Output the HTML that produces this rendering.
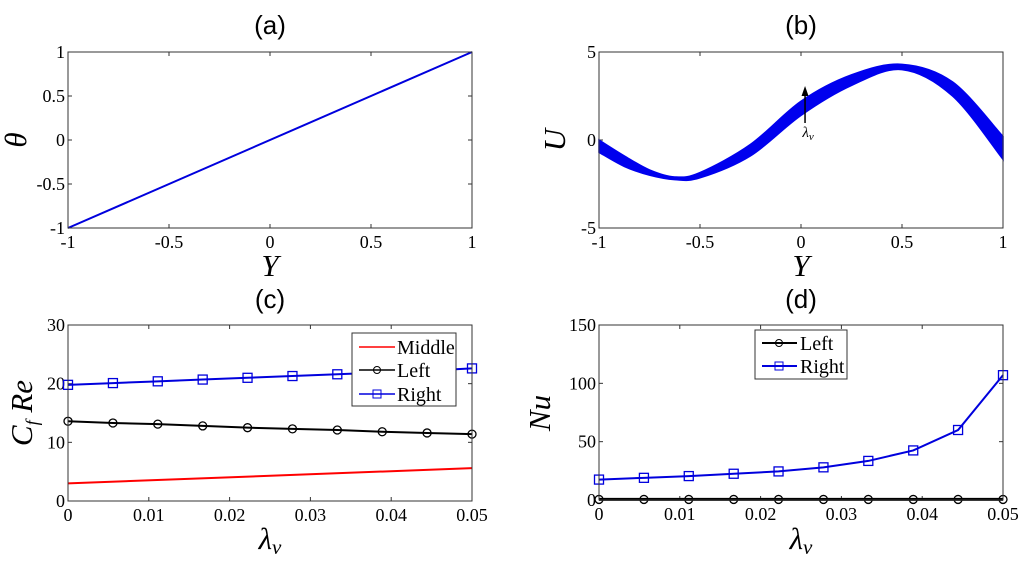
<!DOCTYPE html>
<html><head><meta charset="utf-8"><style>
body{margin:0;background:#fff;}
svg text{font-family:"Liberation Serif",serif;}
</style></head><body>
<svg id="fig" width="1024" height="562" xmlns="http://www.w3.org/2000/svg"></svg>
<script>
const NS="http://www.w3.org/2000/svg";
const svg=document.getElementById('fig');
// ---- data ----
const aY=[-1,1];
const aTheta=[-1,1];
const bY=[-1,-0.875,-0.75,-0.625,-0.5,-0.25,0,0.25,0.5,0.75,1];
const bUlow=[-0.7,-1.5,-2.0,-2.25,-2.15,-0.9,1.4,3.1,4.0,2.5,-1.1];
const bUhigh=[0,-0.9,-1.7,-2.1,-1.85,-0.25,2.2,3.7,4.3,3.3,0.2];
const lam=[0,0.00556,0.01111,0.01667,0.02222,0.02778,0.03333,0.03889,0.04444,0.05];
const cRight=[19.8,20.1,20.4,20.7,21.0,21.3,21.6,21.9,22.2,22.6];
const cLeft=[13.6,13.3,13.1,12.8,12.5,12.3,12.1,11.8,11.6,11.4];
const cMidX=[0,0.05];
const cMiddle=[3.0,5.6];
const dRight=[17.5,19,20.5,22.5,24.5,28,33.5,42.5,60,107];
const dLeft=[0.5,0.5,0.5,0.5,0.5,0.5,0.5,0.5,0.5,0.5];
const ticksA=[-1,-0.5,0,0.5,1];
const ticksAY=[-1,-0.5,0,0.5,1];
const ticksBY=[-5,0,5];
const ticksL=[0,0.01,0.02,0.03,0.04,0.05];
const ticksC=[0,10,20,30];
const ticksD=[0,50,100,150];

function el(tag,attrs,parent){const e=document.createElementNS(NS,tag);for(const k in attrs)e.setAttribute(k,attrs[k]);(parent||svg).appendChild(e);return e;}
function axes(name,x0,x1,y0,y1,xmin,xmax,ymin,ymax,xt,yt){
  const g=el('g',{});
  
  
  const sx=v=>x0+(v-xmin)/(xmax-xmin)*(x1-x0);
  const sy=v=>y1-(v-ymin)/(ymax-ymin)*(y1-y0);
  xt.forEach(t=>{const x=sx(t);
    el('line',{x1:x,x2:x,y1:y1,y2:y1-4,stroke:'#333'},g);
    el('line',{x1:x,x2:x,y1:y0,y2:y0+4,stroke:'#333'},g);
    const tx=el('text',{x:x,y:y1+20,'text-anchor':'middle','font-size':18},g);tx.textContent=String(t);
    
    });
  yt.forEach(t=>{const y=sy(t);
    el('line',{x1:x0,x2:x0+4,y1:y,y2:y,stroke:'#333'},g);
    el('line',{x1:x1,x2:x1-4,y1:y,y2:y,stroke:'#333'},g);
    const tx=el('text',{x:x0-3,y:y+6,'text-anchor':'end','font-size':18},g);tx.textContent=String(t);
    
    });
  return {g,sx,sy,x0,x1,y0,y1};
}
function frame(A){el('rect',{x:A.x0,y:A.y0,width:A.x1-A.x0,height:A.y1-A.y0,fill:'none',stroke:'#333','stroke-width':1},A.g);}
function title(t,x,y,name){const e=el('text',{x:x,y:y,'text-anchor':'middle','font-size':26,style:'font-family:"Liberation Sans",sans-serif'});e.textContent=t;
  
  }
function lbl(html,x,y,rot,name){const e=el('text',{x:x,y:y,'text-anchor':'middle','font-size':31,'font-style':'italic'});e.innerHTML=html;if(rot)e.setAttribute('transform','rotate(-90 '+x+' '+y+')');
  
  }
function poly(A,xs,ys,col,w,name){const e=el('polyline',{points:xs.map((x,i)=>A.sx(x)+','+A.sy(ys[i])).join(' '),fill:'none',stroke:col,'stroke-width':w},A.g);
  
  }
function markers(A,xs,ys,col,type,name){xs.forEach((x,i)=>{const cx=A.sx(x),cy=A.sy(ys[i]);let m;
  if(type==='o')m=el('circle',{cx:cx,cy:cy,r:4,fill:'none',stroke:col,'stroke-width':1.3},A.g);
  else m=el('rect',{x:cx-4.5,y:cy-4.5,width:9,height:9,fill:'none',stroke:col,'stroke-width':1.3},A.g);
  
  });}
function smooth(A,xs,ys){const p=xs.map((x,i)=>[A.sx(x),A.sy(ys[i])]);let d='';
  for(let i=0;i<p.length-1;i++){const p0=p[Math.max(0,i-1)],p1=p[i],p2=p[i+1],p3=p[Math.min(p.length-1,i+2)];
    const c1=[p1[0]+(p2[0]-p0[0])/6,p1[1]+(p2[1]-p0[1])/6],c2=[p2[0]-(p3[0]-p1[0])/6,p2[1]-(p3[1]-p1[1])/6];
    d+=' C'+c1+' '+c2+' '+p2;}
  return {start:p[0],d};}

// (a)
const A=axes('panel-a',68,472,52,228,-1,1,-1,1,ticksA,ticksAY);
poly(A,aY,aTheta,'#0000dd',2,'theta-line');frame(A);
title('(a)',270,34,'title-a');lbl('Y',270,276,false,'x-axis-title-a');lbl('θ',26,140,true,'y-axis-title-a');

// (b)
const B=axes('panel-b',599,1003,52,228,-1,1,-5,5,ticksA,ticksBY);
const up=smooth(B,bY,bUhigh);
const lo=smooth(B,bY.slice().reverse(),bUlow.slice().reverse());
const band=el('path',{d:'M'+up.start+up.d+' L'+lo.start+lo.d+' Z',fill:'#0000ee',stroke:'#0000ee','stroke-width':1.5},B.g);


const ar=el('line',{x1:B.sx(0.02),x2:B.sx(0.02),y1:123,y2:92,stroke:'#000','stroke-width':1.5},B.g);


el('path',{d:'M'+(B.sx(0.02)-3.5)+',96 L'+B.sx(0.02)+',86 L'+(B.sx(0.02)+3.5)+',96 Z',fill:'#000'},B.g);
const al=el('text',{x:B.sx(0.02)+3,y:137,'text-anchor':'middle','font-size':15,'font-style':'italic'},B.g);al.innerHTML='λ<tspan font-size="11" dy="3">v</tspan>';


frame(B);
title('(b)',801,34,'title-b');lbl('Y',801,276,false,'x-axis-title-b');lbl('U',565,140,true,'y-axis-title-b');

// (c)
const C=axes('panel-c',68,472,325,501,0,0.05,0,30,ticksL,ticksC);
poly(C,cMidX,cMiddle,'#ff0000',2,'middle-line');
poly(C,lam,cLeft,'#000',2,'left-line');markers(C,lam,cLeft,'#000','o','left-marker');
poly(C,lam,cRight,'#0000dd',2,'right-line');markers(C,lam,cRight,'#0000dd','s','right-marker');
frame(C);
title('(c)',270,308,'title-c');lbl('λ<tspan font-size="21" dy="5">v</tspan>',270,549,false,'x-axis-title-c');
lbl('C<tspan font-size="18" dy="6">f</tspan><tspan dy="-6"> Re</tspan>',32,413,true,'y-axis-title-c');
// legend c
const lc=el('g',{});


el('rect',{x:352,y:333,width:104,height:73,fill:'#fff',stroke:'#333'},lc);
[['Middle','#ff0000',null,346],['Left','#000','o',369],['Right','#0000dd','s',393]].forEach(r=>{
  el('line',{x1:359,x2:395,y1:r[3]+1,y2:r[3]+1,stroke:r[1],'stroke-width':1.5},lc);
  if(r[2]==='o')el('circle',{cx:377,cy:r[3]+1,r:3.5,fill:'none',stroke:r[1]},lc);
  if(r[2]==='s')el('rect',{x:373,y:r[3]-3,width:8,height:8,fill:'none',stroke:r[1]},lc);
  const t=el('text',{x:397,y:r[3]+8,'font-size':20},lc);t.textContent=r[0];
  
  });

// (d)
const D=axes('panel-d',599,1003,325,500,0,0.05,0,150,ticksL,ticksD);
poly(D,lam,dLeft,'#000',3,'left-line');markers(D,lam,dLeft,'#000','o','left-marker');
poly(D,lam,dRight,'#0000dd',2,'right-line');markers(D,lam,dRight,'#0000dd','s','right-marker');
frame(D);
title('(d)',801,308,'title-d');lbl('λ<tspan font-size="21" dy="5">v</tspan>',801,549,false,'x-axis-title-d');
lbl('Nu',550,413,true,'y-axis-title-d');
const ld=el('g',{});


el('rect',{x:755,y:330,width:92,height:49,fill:'#fff',stroke:'#333'},ld);
[['Left','#000','o',343],['Right','#0000dd','s',366]].forEach(r=>{
  el('line',{x1:762,x2:797,y1:r[3],y2:r[3],stroke:r[1],'stroke-width':2},ld);
  if(r[2]==='o')el('circle',{cx:779,cy:r[3],r:3.5,fill:'none',stroke:r[1]},ld);
  if(r[2]==='s')el('rect',{x:775,y:r[3]-4,width:8,height:8,fill:'none',stroke:r[1]},ld);
  const t=el('text',{x:800,y:r[3]+7,'font-size':20},ld);t.textContent=r[0];
  
  });
</script>
</body></html>
